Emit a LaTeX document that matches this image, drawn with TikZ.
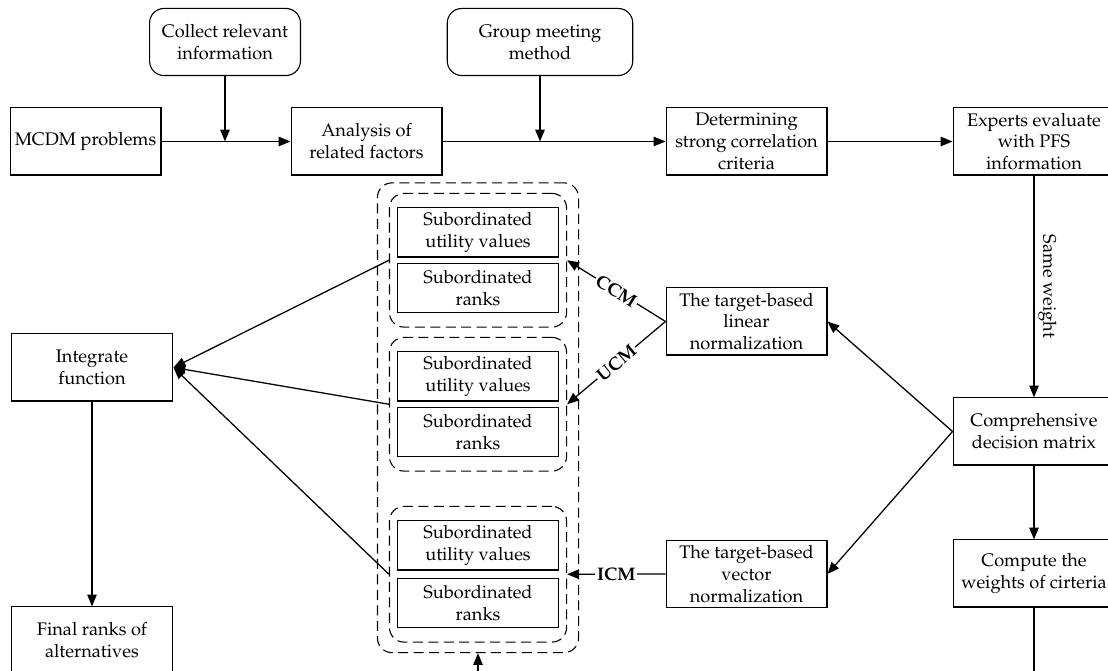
\documentclass[tikz,border=0pt]{standalone}
\usepackage[T1]{fontenc}
\usepackage{mathpazo}
\usepackage{tikz}
\usetikzlibrary{arrows.meta, fit, positioning}

\tikzset{
  box/.style={draw, line width=0.6pt, align=center, inner sep=1pt, minimum width=89pt, minimum height=36.9pt},
  rbox/.style={box, rounded corners=8pt, minimum width=83pt},
  subbox/.style={box, minimum height=27pt},
  grp/.style={draw, dash pattern=on 5.5pt off 3pt, rounded corners=8pt, line width=0.6pt},
  lbl/.style={fill=white, inner sep=1pt, font=\bfseries},
}

\begin{document}
\begin{tikzpicture}[x=0.55pt, y=-0.55pt, >={Triangle[length=6.5pt, width=5.2pt]}, line width=0.7pt]
\useasboundingbox (0,0) rectangle (1108,671);

\node[rbox] (collect) at (225,42) {Collect relevant\\information};
\node[rbox, minimum width=102pt] (group) at (540,42) {Group meeting\\method};
\node[box, minimum width=83pt] (mcdm) at (85.5,141.5) {MCDM problems};
\node[box, minimum width=83pt] (analysis) at (366.5,141.5) {Analysis of\\related factors};
\node[box, minimum width=88.5pt] (strong) at (746.5,141.5) {Determining\\strong correlation\\criteria};
\node[box] (experts) at (1034,141.5) {Experts evaluate\\with PFS\\information};
\node[box, minimum width=88.5pt] (linear) at (746.5,321.5) {The target-based\\linear\\normalization};
\node[box, minimum width=88.5pt] (vector) at (746.5,574) {The target-based\\vector\\normalization};
\node[box] (matrix) at (1034,431.5) {Comprehensive\\decision matrix};
\node[box] (weights) at (1034,573.5) {Compute the\\weights of cirteria};
\node[box] (integ) at (92,367.5) {Integrate\\function};
\node[box] (final) at (92,640.5) {Final ranks of\\alternatives};

\node[subbox] (util1) at (478,232.5) {Subordinated\\utility values};
\node[subbox] (rank1) at (478,288) {Subordinated\\ranks};
\node[subbox] (util2) at (478,376.5) {Subordinated\\utility values};
\node[subbox] (rank2) at (478,432) {Subordinated\\ranks};
\node[subbox] (util3) at (478,545.5) {Subordinated\\utility values};
\node[subbox] (rank3) at (478,603) {Subordinated\\ranks};

\node[grp, fit=(util1)(rank1), inner xsep=3.9pt, inner ysep=7.7pt] (g1) {};
\node[grp, fit=(util2)(rank2), inner xsep=3.9pt, inner ysep=7.7pt] (g2) {};
\node[grp, fit=(util3)(rank3), inner xsep=3.9pt, inner ysep=7.7pt] (g3) {};
\node[grp, fit=(g1)(g2)(g3), inner xsep=6.3pt, inner ysep=5.5pt] (outer) {};

\draw[->] (mcdm) -- (analysis);
\draw[->] (analysis) -- (strong);
\draw[->] (strong) -- (experts);
\draw[->] (collect) -- (collect |- mcdm.east);
\draw[->] (group) -- (group |- mcdm.east);
\draw[->] (experts) -- node[midway, rotate=-90, anchor=south, inner sep=2pt] {Same weight} (matrix);
\draw[->] (matrix) -- (weights);
\draw[->] (matrix.west) -- (linear.east);
\draw[->] (matrix.west) -- (vector.east);
\draw[->] (linear.west) -- node[lbl, sloped] {CCM} (g1.east);
\draw[->] (linear.west) -- node[lbl, sloped] {UCM} (g2.east);
\draw[->] (vector.west) -- node[lbl] {ICM} (g3.east);
\draw[->] (g1.west) -- (integ.east);
\draw[->] (g2.west) -- (integ.east);
\draw[->] (g3.west) -- (integ.east);
\draw[->] (integ) -- (final);
\draw[->] (weights) -- ++(0,110) -| (outer.south);
\end{tikzpicture}
\end{document}
